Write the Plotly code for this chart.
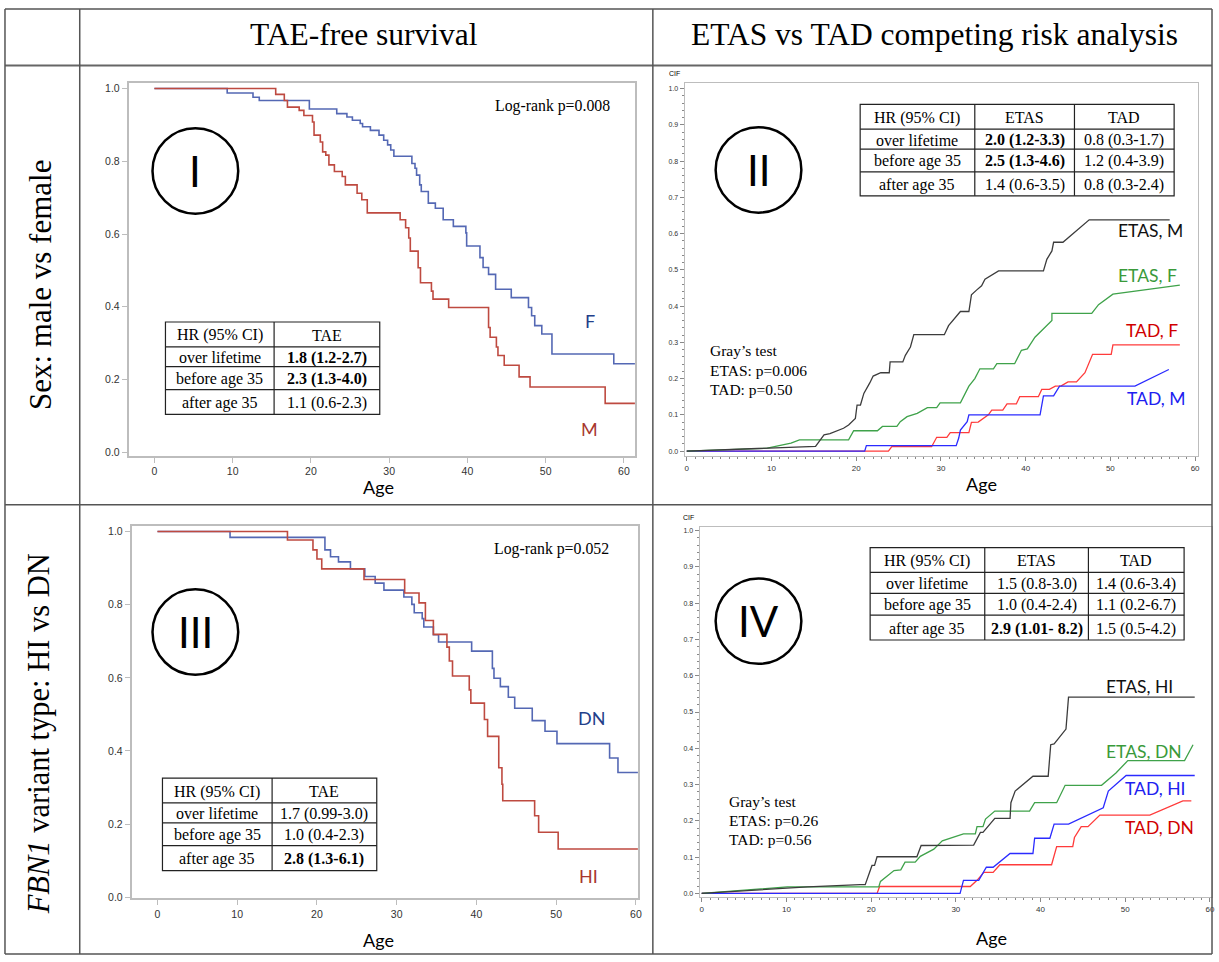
import plotly.graph_objects as go

W, H = 1219, 962

# ---------------- data ----------------
# Panel I: TAE-free survival by sex (Kaplan-Meier)
F_age = [0, 9.3, 12.6, 13.4, 19.8, 23.3, 24.6, 25.3, 26.3, 26.6, 27.6, 28.7, 29.3, 29.8, 30.2, 30.6,
         32.9, 33.3, 33.5, 33.9, 34.1, 35.0, 35.9, 36.9, 38.2, 39.8, 39.9, 41.6, 42.0, 42.7, 43.6,
         45.6, 47.8, 48.2, 48.6, 49.5, 50.8, 58.7, 61.5]
F_surv = [1.0, 0.988, 0.976, 0.967, 0.944, 0.931, 0.922, 0.913, 0.904, 0.895, 0.885, 0.872, 0.858,
          0.845, 0.831, 0.814, 0.794, 0.781, 0.762, 0.735, 0.717, 0.685, 0.671, 0.639, 0.621, 0.603,
          0.567, 0.535, 0.508, 0.489, 0.448, 0.425, 0.398, 0.375, 0.348, 0.325, 0.270, 0.243, 0.243]
M_age = [0, 15.5, 16.6, 17.0, 18.5, 19.1, 20.2, 20.4, 21.2, 21.5, 21.9, 22.3, 23.0, 24.0, 24.4, 25.9,
         26.5, 27.2, 31.4, 32.1, 32.5, 32.7, 33.7, 34.0, 35.4, 35.6, 37.6, 42.7, 42.9, 43.7, 43.9,
         44.7, 46.6, 48.0, 57.6, 61.5]
M_surv = [1.0, 0.984, 0.967, 0.949, 0.940, 0.926, 0.908, 0.872, 0.853, 0.826, 0.817, 0.790, 0.772,
          0.758, 0.735, 0.712, 0.694, 0.658, 0.639, 0.617, 0.589, 0.553, 0.507, 0.466, 0.443, 0.421,
          0.398, 0.343, 0.316, 0.289, 0.266, 0.239, 0.207, 0.179, 0.134, 0.134]

# Panel III: TAE-free survival by FBN1 variant type
DN_age = [0, 9.1, 21.0, 21.7, 22.7, 24.2, 26.0, 27.3, 28.4, 30.9, 31.9, 32.2, 33.2, 33.4, 34.6, 35.25,
          39.4, 42.0, 42.2, 43.0, 44.0, 44.8, 47.0, 48.6, 50.1, 56.7, 57.75, 60.5]
DN_surv = [1.0, 0.984, 0.950, 0.931, 0.917, 0.898, 0.877, 0.859, 0.840, 0.821, 0.801, 0.778, 0.762,
           0.739, 0.718, 0.698, 0.673, 0.626, 0.599, 0.576, 0.547, 0.517, 0.483, 0.454, 0.420,
           0.381, 0.341, 0.341]
HI_age = [0, 16.3, 19.5, 20.0, 20.6, 25.9, 31.0, 32.8, 33.6, 34.6, 36.3, 36.6, 37.0, 39.1, 39.3, 41.0,
          41.4, 42.8, 43.2, 43.3, 47.3, 47.8, 50.25, 60.5]
HI_surv = [1.0, 0.977, 0.950, 0.925, 0.898, 0.869, 0.832, 0.805, 0.757, 0.719, 0.684, 0.646, 0.605,
           0.567, 0.531, 0.486, 0.440, 0.354, 0.309, 0.264, 0.223, 0.178, 0.132, 0.132]

# Panel II: cumulative incidence, sex
ETAS_M_age = [0, 15.2, 16.2, 16.9, 18.5, 19.1, 19.9, 20.1, 20.5, 20.9, 21.6, 22.0, 22.9, 23.9, 24.0,
              25.5, 25.8, 26.4, 26.8, 30.4, 30.9, 31.5, 32.3, 33.3, 33.6, 34.2, 34.8, 35.2, 36.8,
              42.1, 42.5, 43.1, 43.3, 44.4, 46.4, 47.5, 57.0]
ETAS_M_cif = [0, 0.013, 0.045, 0.048, 0.063, 0.072, 0.090, 0.127, 0.127, 0.159, 0.188, 0.207, 0.216,
              0.216, 0.246, 0.246, 0.264, 0.287, 0.321, 0.321, 0.346, 0.364, 0.385, 0.385, 0.431,
              0.444, 0.456, 0.474, 0.497, 0.497, 0.529, 0.552, 0.576, 0.576, 0.616, 0.638, 0.638]
ETAS_F_age = [0, 9.5, 12.3, 13.3, 19.1, 19.7, 22.5, 23.1, 24.8, 25.2, 26.0, 27.2, 28.4, 29.5, 29.9,
              32.3, 33.3, 34.0, 34.6, 36.2, 36.6, 38.7, 39.5, 40.2, 41.1, 42.3, 43.1, 43.1, 47.8,
              48.6, 50.3, 58.2]
ETAS_F_cif = [0, 0.008, 0.022, 0.031, 0.031, 0.056, 0.056, 0.068, 0.068, 0.081, 0.095, 0.104, 0.120,
              0.120, 0.133, 0.133, 0.179, 0.200, 0.227, 0.227, 0.241, 0.241, 0.278, 0.282, 0.314,
              0.342, 0.360, 0.380, 0.380, 0.404, 0.433, 0.458]
TAD_F_age = [0, 23.8, 24.2, 28.9, 29.5, 30.7, 31.1, 33.3, 33.6, 34.4, 35.6, 36.0, 37.3, 37.8, 38.9,
             39.3, 41.5, 41.9, 42.8, 43.5, 44.2, 45.0, 46.0, 47.0, 47.9, 50.1, 50.3, 58.2]
TAD_F_cif = [0, 0, 0.012, 0.012, 0.038, 0.038, 0.051, 0.051, 0.079, 0.080, 0.100, 0.113, 0.113,
             0.130, 0.130, 0.150, 0.150, 0.170, 0.170, 0.179, 0.180, 0.191, 0.191, 0.216, 0.267,
             0.267, 0.293, 0.293]
TAD_M_age = [0, 21.0, 21.2, 31.8, 32.1, 32.3, 33.1, 33.3, 41.7, 42.1, 43.3, 44.0, 52.9, 56.9]
TAD_M_cif = [0, 0, 0.015, 0.015, 0.036, 0.058, 0.081, 0.100, 0.100, 0.152, 0.152, 0.179, 0.179, 0.225]

# Panel IV: cumulative incidence, variant type
ETAS_HI_age = [0, 12.5, 18.7, 19.3, 20.1, 20.4, 20.7, 25.4, 25.9, 32.1, 32.9, 33.2, 34.6, 36.4, 36.5,
               37.0, 39.1, 40.9, 41.2, 41.6, 43.0, 43.3, 58.2]
ETAS_HI_cif = [0, 0.018, 0.024, 0.024, 0.077, 0.077, 0.101, 0.101, 0.132, 0.133, 0.168, 0.168, 0.207,
               0.207, 0.250, 0.282, 0.323, 0.323, 0.410, 0.412, 0.453, 0.541, 0.541]
ETAS_DN_age = [0, 10.1, 20.9, 21.1, 22.7, 23.5, 24.0, 25.2, 25.8, 27.4, 28.4, 30.9, 32.3, 32.5, 33.2,
               33.5, 34.6, 38.7, 39.3, 41.9, 42.9, 47.2, 48.9, 50.3, 57.0, 58.0]
ETAS_DN_cif = [0, 0.018, 0.018, 0.033, 0.063, 0.065, 0.086, 0.086, 0.102, 0.122, 0.145, 0.164, 0.164,
               0.184, 0.184, 0.205, 0.227, 0.227, 0.250, 0.250, 0.298, 0.298, 0.332, 0.366, 0.366, 0.410]
TAD_HI_age = [0, 30.5, 30.9, 32.7, 33.6, 34.4, 36.4, 39.1, 39.3, 41.1, 41.6, 43.3, 47.4, 48.0, 50.1, 58.2]
TAD_HI_cif = [0, 0, 0.036, 0.036, 0.072, 0.072, 0.110, 0.110, 0.152, 0.152, 0.191, 0.191, 0.236,
              0.282, 0.325, 0.325]
TAD_DN_age = [0, 20.7, 21.0, 31.7, 32.5, 33.3, 34.4, 35.2, 41.3, 41.9, 43.8, 44.0, 44.8, 45.6, 47.0,
              52.9, 56.8, 57.8]
TAD_DN_cif = [0, 0, 0.019, 0.019, 0.036, 0.058, 0.058, 0.079, 0.079, 0.129, 0.129, 0.154, 0.184,
              0.184, 0.216, 0.216, 0.255, 0.255]

# Hazard-ratio tables
ROW_LABELS = ["HR (95% CI)", "over lifetime", "before age 35", "after age 35"]
T1_TAE = ["TAE", "1.8 (1.2-2.7)", "2.3 (1.3-4.0)", "1.1 (0.6-2.3)"]
T1_BOLD = [False, True, True, False]
T3_TAE = ["TAE", "1.7 (0.99-3.0)", "1.0 (0.4-2.3)", "2.8 (1.3-6.1)"]
T3_BOLD = [False, False, False, True]
T2_ETAS = ["ETAS", "2.0 (1.2-3.3)", "2.5 (1.3-4.6)", "1.4 (0.6-3.5)"]
T2_ETAS_BOLD = [False, True, True, False]
T2_TAD = ["TAD", "0.8 (0.3-1.7)", "1.2 (0.4-3.9)", "0.8 (0.3-2.4)"]
T4_ETAS = ["ETAS", "1.5 (0.8-3.0)", "1.0 (0.4-2.4)", "2.9 (1.01- 8.2)"]
T4_ETAS_BOLD = [False, False, False, True]
T4_TAD = ["TAD", "1.4 (0.6-3.4)", "1.1 (0.2-6.7)", "1.5 (0.5-4.2)"]
NO_BOLD = [False, False, False, False]

# ---------------- styling ----------------
SERIF = "Liberation Serif"
SANS = "Liberation Sans"
CAL = "Lato"
KM_BLUE = "#5468B4"
KM_RED = "#BE4A40"
C_BLACK = "#3C3C3C"
C_GREEN = "#3FA24A"
C_RED = "#FF3B3B"
C_BLUE = "#2B2BFF"
FRAME = "#BDBDBD"


def X(p):
    return p / W


def Y(p):
    return 1 - p / H


fig = go.Figure()

# ---------- traces ----------
def km(x, y, color, ax):
    fig.add_trace(go.Scatter(x=x, y=y, mode="lines", line=dict(color=color, width=1.6, shape="hv"),
                             xaxis="x" + ax, yaxis="y" + ax, showlegend=False, hoverinfo="skip"))


def cif(x, y, color, ax):
    fig.add_trace(go.Scatter(x=x, y=y, mode="lines", line=dict(color=color, width=1.3),
                             xaxis="x" + ax, yaxis="y" + ax, showlegend=False, hoverinfo="skip"))


km(F_age, F_surv, KM_BLUE, "")
km(M_age, M_surv, KM_RED, "")
cif(TAD_F_age, TAD_F_cif, C_RED, "2")
cif(TAD_M_age, TAD_M_cif, C_BLUE, "2")
cif(ETAS_F_age, ETAS_F_cif, C_GREEN, "2")
cif(ETAS_M_age, ETAS_M_cif, C_BLACK, "2")
km(DN_age, DN_surv, KM_BLUE, "3")
km(HI_age, HI_surv, KM_RED, "3")
cif(TAD_DN_age, TAD_DN_cif, C_RED, "4")
cif(TAD_HI_age, TAD_HI_cif, C_BLUE, "4")
cif(ETAS_DN_age, ETAS_DN_cif, C_GREEN, "4")
cif(ETAS_HI_age, ETAS_HI_cif, C_BLACK, "4")

# ---------- axes ----------
def km_axes(xpix, ypix, xr, yr):
    xa = dict(domain=[X(xpix[0]), X(xpix[1])], range=xr, tickvals=[0, 10, 20, 30, 40, 50, 60],
              ticks="outside", ticklen=5, tickcolor=FRAME, showline=True, linecolor=FRAME, linewidth=1.5,
              mirror=True, showgrid=False, zeroline=False,
              tickfont=dict(family=SANS, size=10.5, color="#333333"))
    ya = dict(domain=[Y(ypix[1]), Y(ypix[0])], range=yr, tickvals=[0, 0.2, 0.4, 0.6, 0.8, 1.0],
              tickformat=".1f", ticks="outside", ticklen=5, tickcolor=FRAME, showline=True,
              linecolor=FRAME, linewidth=1.5, mirror=True, showgrid=False, zeroline=False,
              tickfont=dict(family=SANS, size=10.5, color="#333333"))
    return xa, ya


def cif_axes(xpix, ypix, xr, yr):
    xa = dict(domain=[X(xpix[0]), X(xpix[1])], range=xr, tickvals=[0, 10, 20, 30, 40, 50, 60],
              ticks="outside", ticklen=4, tickcolor="#888888", showline=True, linecolor=FRAME,
              linewidth=1.2, mirror=True, showgrid=False, zeroline=False,
              minor=dict(dtick=1, ticks="outside", ticklen=2, tickcolor="#888888"),
              tickfont=dict(family=SANS, size=8, color="#333333"))
    ya = dict(domain=[Y(ypix[1]), Y(ypix[0])], range=yr, tickvals=[i / 10 for i in range(11)],
              tickformat=".1f", ticks="outside", ticklen=4, tickcolor="#888888", showline=True,
              linecolor=FRAME, linewidth=1.2, mirror=True, showgrid=False, zeroline=False,
              minor=dict(dtick=0.02, ticks="outside", ticklen=2, tickcolor="#888888"),
              tickfont=dict(family=SANS, size=7, color="#333333"))
    return xa, ya


x1, y1 = km_axes((129, 637), (83, 458), [-3.3, 61.4], [-0.011, 1.014])
x3, y3 = km_axes((132, 640), (528, 903), [-3.25, 60.25], [-0.003, 1.016])
x2, y2 = cif_axes((687, 1202), (83, 458), [-0.24, 60.35], [-0.014, 1.014])
x4, y4 = cif_axes((702, 1216), (529, 902), [-0.24, 60.24], [-0.011, 1.011])
y2["anchor"] = "x2"; x2["anchor"] = "y2"
y3["anchor"] = "x3"; x3["anchor"] = "y3"
y4["anchor"] = "x4"; x4["anchor"] = "y4"

shapes = []
annotations = []


def line(xa, ya, xb, yb, color="#555555", width=1.5):
    shapes.append(dict(type="line", xref="paper", yref="paper", x0=X(xa), y0=Y(ya), x1=X(xb), y1=Y(yb),
                       line=dict(color=color, width=width)))


def text(x, y, s, size, color="black", family=SERIF, xanchor="center", angle=0):
    annotations.append(dict(x=X(x), y=Y(y), xref="paper", yref="paper", text=s, showarrow=False,
                            xanchor=xanchor, yanchor="middle", textangle=angle,
                            font=dict(family=family, size=size, color=color)))


# ---------- outer grid ----------
line(5, 8, 1216, 8)
line(5, 65, 1216, 65, color="#666666", width=2)
line(5, 507, 1216, 507)
line(5, 959, 1216, 959)
line(5, 8, 5, 959)
line(80, 8, 80, 959)
line(655, 8, 655, 959)
line(1216, 8, 1216, 959)

text(365, 34, "TAE-free survival", 31.5)
text(938, 34, "ETAS vs TAD competing risk analysis", 31.5)
text(40, 285, "Sex: male vs female", 31, angle=-90)
text(40, 737, "<i>FBN1</i> variant type: HI vs DN", 30.5, angle=-90)

# ---------- circles with roman numerals ----------
def circle(cx, cy, r, label):
    shapes.append(dict(type="circle", xref="paper", yref="paper", x0=X(cx - r), x1=X(cx + r),
                       y0=Y(cy + r), y1=Y(cy - r), line=dict(color="black", width=2.5)))
    text(cx, cy, label, 42, family=CAL)


circle(196, 171, 43, "I")
circle(761, 170, 43, "II")
circle(196, 635, 43, "III")
circle(761, 624, 43, "IV")

# ---------- tables ----------
def table(xs, ys, columns, bolds, size=16):
    shapes.append(dict(type="rect", xref="paper", yref="paper", x0=X(xs[0]), x1=X(xs[-1]),
                       y0=Y(ys[-1]), y1=Y(ys[0]), fillcolor="white", line=dict(color="#222222", width=1.2)))
    for xv in xs[1:-1]:
        line(xv, ys[0], xv, ys[-1], color="#222222", width=1.2)
    for yv in ys[1:-1]:
        line(xs[0], yv, xs[-1], yv, color="#222222", width=1.2)
    for c, (col, bold) in enumerate(zip(columns, bolds)):
        cx = (xs[c] + xs[c + 1]) / 2
        for r, s in enumerate(col):
            cy = (ys[r] + ys[r + 1]) / 2
            text(cx, cy + 1, "<b>" + s + "</b>" if bold[r] else s, size)


table([166, 275, 381], [323, 348, 368, 391, 416], [ROW_LABELS, T1_TAE], [NO_BOLD, T1_BOLD])
table([163, 273, 378], [782, 807, 827, 850, 875], [ROW_LABELS, T3_TAE], [NO_BOLD, T3_BOLD])
table([863, 978, 1078, 1178], [104, 129, 149, 172, 196], [ROW_LABELS, T2_ETAS, T2_TAD],
      [NO_BOLD, T2_ETAS_BOLD, NO_BOLD])
table([873, 988, 1092, 1188], [550, 575, 596, 618, 643], [ROW_LABELS, T4_ETAS, T4_TAD],
      [NO_BOLD, T4_ETAS_BOLD, NO_BOLD])

# ---------- panel texts ----------
text(554, 106, "Log-rank p=0.008", 15.8)
text(553, 551, "Log-rank p=0.052", 15.8)
text(592, 322, "F", 18, color="#23408A", family=CAL)
text(591, 431, "M", 18, color="#A8382E", family=CAL)
text(593, 721, "DN", 18, color="#23408A", family=CAL)
text(590, 880, "HI", 18, color="#A8382E", family=CAL)

for i, s in enumerate(["Gray\u2019s test", "ETAS: p=0.006", "TAD: p=0.50"]):
    text(710, 352 + 19.5 * i, s, 15.5, xanchor="left")
for i, s in enumerate(["Gray\u2019s test", "ETAS: p=0.26", "TAD: p=0.56"]):
    text(729, 806 + 19 * i, s, 15.5, xanchor="left")

text(1154, 231, "ETAS, M", 17.5, color="#111111", family=CAL)
text(1151, 276, "ETAS, F", 17.5, color="#3A9A3A", family=CAL)
text(1156, 332, "TAD, F", 17.5, color="#D00000", family=CAL)
text(1160, 400, "TAD, M", 17.5, color="#2020F0", family=CAL)
text(1143, 690, "ETAS, HI", 17.5, color="#111111", family=CAL)
text(1148, 755, "ETAS, DN", 17.5, color="#3A9A3A", family=CAL)
text(1159, 792, "TAD, HI", 17.5, color="#2020F0", family=CAL)
text(1163, 832, "TAD, DN", 17.5, color="#D00000", family=CAL)

text(380, 489, "Age", 18, family=CAL)
text(380, 945, "Age", 18, family=CAL)
text(985, 486, "Age", 18, family=CAL)
text(995, 943, "Age", 18, family=CAL)
text(677, 73, "CIF", 7, family=SANS)
text(691, 520, "CIF", 7, family=SANS)

fig.update_layout(
    width=W, height=H, margin=dict(l=0, r=0, t=0, b=0),
    paper_bgcolor="white", plot_bgcolor="white", showlegend=False,
    xaxis=x1, yaxis=y1, xaxis2=x2, yaxis2=y2, xaxis3=x3, yaxis3=y3, xaxis4=x4, yaxis4=y4,
    shapes=shapes, annotations=annotations,
)

fig.write_html("out.html")
